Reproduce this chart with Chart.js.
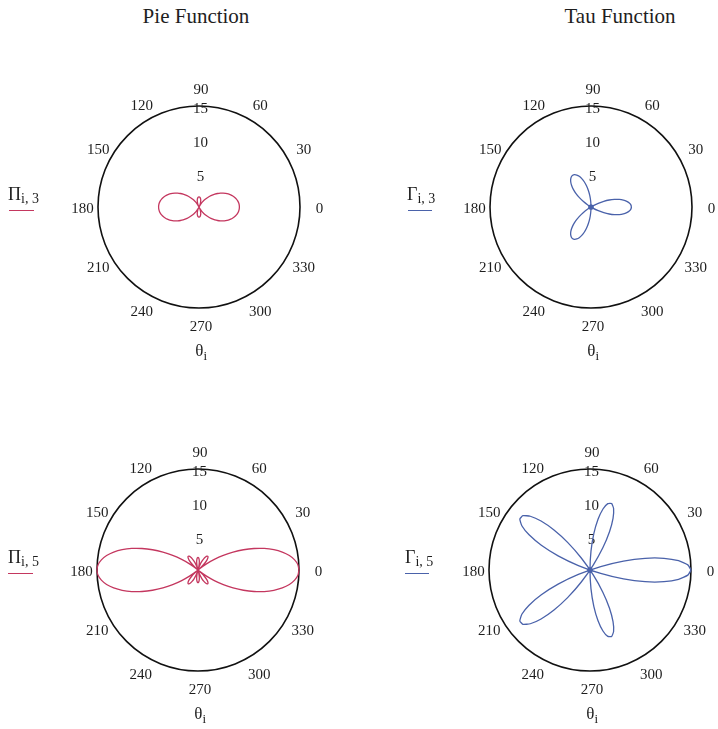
<!DOCTYPE html>
<html>
<head>
<meta charset="utf-8">
<script src="https://cdn.jsdelivr.net/npm/chart.js@4/dist/chart.umd.min.js"></script>
<style>
html,body{margin:0;padding:0;background:#fff;}
#page{position:relative;width:718px;height:729px;overflow:hidden;font-family:"Liberation Serif","Times New Roman",serif;color:#1e1e1e;}
.panel{position:absolute;width:340px;height:340px;}
.title{position:absolute;font-size:21px;line-height:21px;white-space:nowrap;transform:translateX(-50%);}
.leg{position:absolute;font-size:18px;line-height:18px;white-space:nowrap;}
.leg sub{font-size:14px;vertical-align:-3px;line-height:0;}
.swatch{position:absolute;height:0;border-top:1.4px solid;}
.axlab{position:absolute;font-size:17px;line-height:17px;white-space:nowrap;transform:translateX(-40%);}
.axlab sub{font-size:13px;vertical-align:-4px;line-height:0;}
</style>
</head>
<body>
<div id="page">
  <div class="title" style="left:196px;top:6px;">Pie Function</div>
  <div class="title" style="left:620px;top:6px;">Tau Function</div>

  <div class="panel" style="left:29px;top:37px;"><canvas id="pi3"></canvas></div>
  <div class="panel" style="left:421px;top:37px;"><canvas id="tau3"></canvas></div>
  <div class="panel" style="left:28px;top:400px;"><canvas id="pi5"></canvas></div>
  <div class="panel" style="left:420px;top:400px;"><canvas id="tau5"></canvas></div>

  <div class="leg" style="left:8px;top:185px;">Π<sub>i, 3</sub></div>
  <div class="swatch" style="left:9px;top:210px;width:25px;color:#c4375f;"></div>
  <div class="leg" style="left:407px;top:185px;">Γ<sub>i, 3</sub></div>
  <div class="swatch" style="left:408px;top:210px;width:24px;color:#4a62aa;"></div>
  <div class="leg" style="left:8px;top:548px;">Π<sub>i, 5</sub></div>
  <div class="swatch" style="left:8px;top:573px;width:25px;color:#c4375f;"></div>
  <div class="leg" style="left:405px;top:548px;">Γ<sub>i, 5</sub></div>
  <div class="swatch" style="left:405px;top:573px;width:24px;color:#4a62aa;"></div>

  <div class="axlab" style="left:200px;top:342px;">θ<sub>i</sub></div>
  <div class="axlab" style="left:592px;top:342px;">θ<sub>i</sub></div>
  <div class="axlab" style="left:199px;top:705px;">θ<sub>i</sub></div>
  <div class="axlab" style="left:591px;top:705px;">θ<sub>i</sub></div>
</div>
<script>
// Scattering angle in degrees
const theta = [0,3,6,9,12,15,18,21,24,27,30,33,36,39,42,45,48,51,54,57,60,63,66,69,72,75,78,81,84,87,90,
  93,96,99,102,105,108,111,114,117,120,123,126,129,132,135,138,141,144,147,150,153,156,159,162,165,168,171,174,177,180,
  183,186,189,192,195,198,201,204,207,210,213,216,219,222,225,228,231,234,237,240,243,246,249,252,255,258,261,264,267,270,
  273,276,279,282,285,288,291,294,297,300,303,306,309,312,315,318,321,324,327,330,333,336,339,342,345,348,351,354,357,360];

// Angular function Pi, order 3
const pi3 = [6.00,5.98,5.92,5.82,5.68,5.50,5.28,5.04,4.76,4.45,4.13,3.78,3.41,3.03,2.64,2.25,1.86,1.47,1.09,0.72,0.38,0.05,-0.26,-0.54,-0.78,-1.00,-1.18,-1.32,-1.42,-1.48,-1.50,
  -1.48,-1.42,-1.32,-1.18,-1.00,-0.78,-0.54,-0.26,0.05,0.38,0.72,1.09,1.47,1.86,2.25,2.64,3.03,3.41,3.78,4.13,4.45,4.76,5.04,5.28,5.50,5.68,5.82,5.92,5.98,6.00,
  5.98,5.92,5.82,5.68,5.50,5.28,5.04,4.76,4.45,4.13,3.78,3.41,3.03,2.64,2.25,1.86,1.47,1.09,0.72,0.38,0.05,-0.26,-0.54,-0.78,-1.00,-1.18,-1.32,-1.42,-1.48,-1.50,
  -1.48,-1.42,-1.32,-1.18,-1.00,-0.78,-0.54,-0.26,0.05,0.38,0.72,1.09,1.47,1.86,2.25,2.64,3.03,3.41,3.78,4.13,4.45,4.76,5.04,5.28,5.50,5.68,5.82,5.92,5.98,6.00];

// Angular function Tau, order 3
const tau3 = [6.00,5.93,5.72,5.38,4.92,4.34,3.66,2.90,2.08,1.21,0.32,-0.57,-1.44,-2.26,-3.03,-3.71,-4.30,-4.78,-5.13,-5.35,-5.44,-5.39,-5.20,-4.88,-4.43,-3.88,-3.23,-2.49,-1.70,-0.86,0.00,
  0.86,1.70,2.49,3.23,3.88,4.43,4.88,5.20,5.39,5.44,5.35,5.13,4.78,4.30,3.71,3.03,2.26,1.44,0.57,-0.32,-1.21,-2.08,-2.90,-3.66,-4.34,-4.92,-5.38,-5.72,-5.93,-6.00,
  -5.93,-5.72,-5.38,-4.92,-4.34,-3.66,-2.90,-2.08,-1.21,-0.32,0.57,1.44,2.26,3.03,3.71,4.30,4.78,5.13,5.35,5.44,5.39,5.20,4.88,4.43,3.88,3.23,2.49,1.70,0.86,0.00,
  -0.86,-1.70,-2.49,-3.23,-3.88,-4.43,-4.88,-5.20,-5.39,-5.44,-5.35,-5.13,-4.78,-4.30,-3.71,-3.03,-2.26,-1.44,-0.57,0.32,1.21,2.08,2.90,3.66,4.34,4.92,5.38,5.72,5.93,6.00];

// Angular function Pi, order 5
const pi5 = [15.00,14.86,14.43,13.74,12.80,11.66,10.35,8.91,7.39,5.85,4.34,2.89,1.56,0.38,-0.61,-1.41,-1.98,-2.35,-2.49,-2.45,-2.23,-1.86,-1.39,-0.85,-0.27,0.29,0.81,1.26,1.59,1.80,1.88,
  1.80,1.59,1.26,0.81,0.29,-0.27,-0.85,-1.39,-1.86,-2.23,-2.45,-2.49,-2.35,-1.98,-1.41,-0.61,0.38,1.56,2.89,4.34,5.85,7.39,8.91,10.35,11.66,12.80,13.74,14.43,14.86,15.00,
  14.86,14.43,13.74,12.80,11.66,10.35,8.91,7.39,5.85,4.34,2.89,1.56,0.38,-0.61,-1.41,-1.98,-2.35,-2.49,-2.45,-2.23,-1.86,-1.39,-0.85,-0.27,0.29,0.81,1.26,1.59,1.80,1.88,
  1.80,1.59,1.26,0.81,0.29,-0.27,-0.85,-1.39,-1.86,-2.23,-2.45,-2.49,-2.35,-1.98,-1.41,-0.61,0.38,1.56,2.89,4.34,5.85,7.39,8.91,10.35,11.66,12.80,13.74,14.43,14.86,15.00];

// Angular function Tau, order 5
const tau5 = [15.00,14.55,13.23,11.13,8.37,5.15,1.67,-1.85,-5.18,-8.11,-10.45,-12.07,-12.88,-12.82,-11.93,-10.28,-7.99,-5.23,-2.20,0.88,3.81,6.38,8.41,9.78,10.39,10.21,9.26,7.62,5.42,2.81,0.00,
  -2.81,-5.42,-7.62,-9.26,-10.21,-10.39,-9.78,-8.41,-6.38,-3.81,-0.88,2.20,5.23,7.99,10.28,11.93,12.82,12.88,12.07,10.45,8.11,5.18,1.85,-1.67,-5.15,-8.37,-11.13,-13.23,-14.55,-15.00,
  -14.55,-13.23,-11.13,-8.37,-5.15,-1.67,1.85,5.18,8.11,10.45,12.07,12.88,12.82,11.93,10.28,7.99,5.23,2.20,-0.88,-3.81,-6.38,-8.41,-9.78,-10.39,-10.21,-9.26,-7.62,-5.42,-2.81,0.00,
  2.81,5.42,7.62,9.26,10.21,10.39,9.78,8.41,6.38,3.81,0.88,-2.20,-5.23,-7.99,-10.28,-11.93,-12.82,-12.88,-12.07,-10.45,-8.11,-5.18,-1.85,1.67,5.15,8.37,11.13,13.23,14.55,15.00];

// Polar grid labels
const angleTicks = [0,30,60,90,120,150,180,210,240,270,300,330];
const radiusTicks = [5,10,15];
const rMax = 15;

const PI_COLOR = '#c4375f';
const TAU_COLOR = '#4a62aa';

// Outer circle, angle labels and radial labels, drawn under the curve
const polarFrame = {
  id: 'polarFrame',
  beforeDatasetsDraw(chart, args, opts) {
    const { ctx, scales: { x, y } } = chart;
    const x0 = x.getPixelForValue(0);
    const y0 = y.getPixelForValue(0);
    const rad = x.getPixelForValue(rMax) - x0;
    ctx.save();
    ctx.beginPath();
    ctx.arc(x0, y0, rad, 0, Math.PI * 2);
    ctx.lineWidth = 1.6;
    ctx.strokeStyle = '#111';
    ctx.stroke();

    ctx.fillStyle = '#1e1e1e';
    ctx.font = '15px "Liberation Serif", "Times New Roman", serif';
    ctx.textAlign = 'center';
    ctx.textBaseline = 'middle';
    angleTicks.forEach(a => {
      const t = a * Math.PI / 180;
      const px = x.getPixelForValue(opts.labelR * Math.cos(t));
      const py = y.getPixelForValue(opts.labelR * Math.sin(t));
      ctx.fillText(String(a), px + 2, py + 2);
    });
    radiusTicks.forEach(v => {
      ctx.fillText(String(v), x0 + 1.5, y.getPixelForValue(v) + 3.5);
    });
    ctx.restore();
  }
};

function polarPoints(radii) {
  return theta.map((t, i) => {
    const a = t * Math.PI / 180;
    return { x: radii[i] * Math.cos(a), y: radii[i] * Math.sin(a) };
  });
}

function makePolar(id, radii, color) {
  new Chart(document.getElementById(id), {
    type: 'scatter',
    data: {
      datasets: [{
        data: polarPoints(radii),
        showLine: true,
        borderColor: color,
        backgroundColor: color,
        borderWidth: 1.3,
        // the curve passes through the origin where the value is zero
        pointRadius: c => (radii[c.dataIndex] === 0 ? 2.6 : 0),
        pointBorderWidth: 0,
        tension: 0.15,
        fill: false,
        clip: false
      }]
    },
    options: {
      responsive: true,
      maintainAspectRatio: false,
      animation: false,
      events: [],
      layout: { padding: 69 },
      scales: {
        x: { type: 'linear', min: -rMax, max: rMax, display: false },
        y: { type: 'linear', min: -rMax, max: rMax, display: false }
      },
      plugins: {
        legend: { display: false },
        tooltip: { enabled: false },
        polarFrame: { labelR: 17.6 }
      }
    },
    plugins: [polarFrame]
  });
}

makePolar('pi3', pi3, PI_COLOR);
makePolar('tau3', tau3, TAU_COLOR);
makePolar('pi5', pi5, PI_COLOR);
makePolar('tau5', tau5, TAU_COLOR);
</script>
</body>
</html>
